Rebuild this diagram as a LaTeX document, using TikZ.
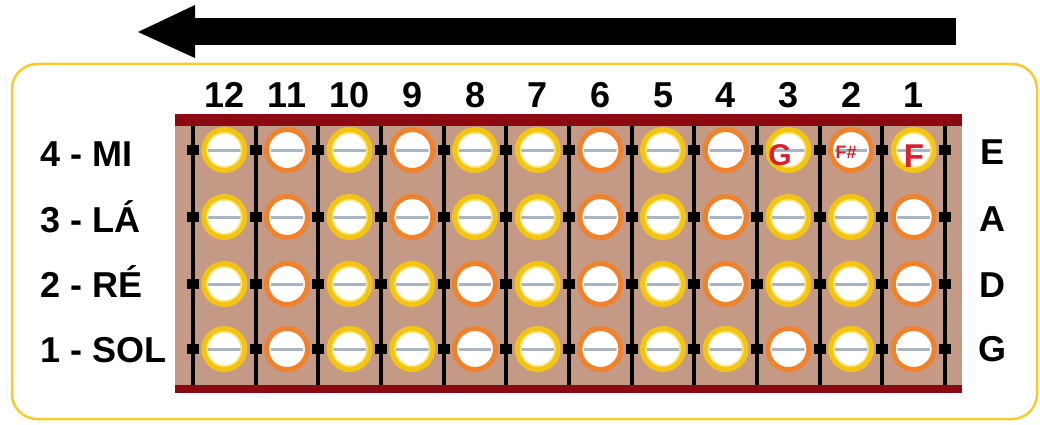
\documentclass[tikz,border=0pt]{standalone}
\usepackage{fontspec}
\setmainfont{Liberation Sans}
\definecolor{framecol}{HTML}{F7CB2E}
\definecolor{brownbg}{HTML}{C49A86}
\definecolor{darkred}{HTML}{8A0A12}
\definecolor{ringY}{HTML}{F3C412}
\definecolor{glowY}{HTML}{FBE77A}
\definecolor{ringO}{HTML}{F0822C}
\definecolor{glowO}{HTML}{FFFFFF}
\definecolor{strcol}{HTML}{A9B5C2}
\definecolor{notered}{HTML}{D9202E}
\begin{document}
\begin{tikzpicture}[x=1pt,y=-1pt,
  lab/.style={font=\fontsize{36}{36}\selectfont\bfseries, inner sep=0pt},
  numlab/.style={lab, anchor=base},
  notelab/.style={font=\fontsize{#1}{#1}\selectfont\bfseries, text=notered, inner sep=0pt, anchor=base}]
\useasboundingbox (0,0) rectangle (1040,425);
% arrow
\fill[black] (195,18) rectangle (956,45);
\fill[black] (138,32) -- (195,5) -- (195,58) -- cycle;
% frame
\draw[framecol, line width=2.5pt, rounded corners=25pt] (12,64) rectangle (1037,419);
% fretboard
\fill[brownbg] (175,120) rectangle (962,390);
\fill[darkred] (175,114) rectangle (962,126);
\fill[darkred] (175,385) rectangle (962,393);
\foreach \i in {0,...,12} {
  \draw[line width=4pt] (193+62.67*\i,126) -- (193+62.67*\i,385);
}
% circles
\foreach \yy/\cols in {150/{Y,O,Y,O,Y,Y,O,Y,O,Y,O,Y},
                       217/{Y,O,Y,O,Y,Y,O,Y,O,Y,Y,O},
                       284/{Y,O,Y,Y,O,Y,O,Y,O,Y,Y,O},
                       349/{Y,O,Y,Y,O,Y,O,Y,Y,O,Y,O}} {
  \foreach \c [count=\k from 0] in \cols {
    \pgfmathsetmacro\cx{224.33+62.67*\k}
    \fill[white] (\cx,\yy) circle (18);
    \draw[strcol, line width=3pt] (\cx-18,\yy) -- (\cx+18,\yy);
    \draw[glow\c, line width=2.5pt] (\cx,\yy) circle (17.5);
    \draw[ring\c, line width=5pt] (\cx,\yy) circle (20.5);
  }
  \foreach \i in {0,...,12} {
    \fill[black] (193+62.67*\i-6,\yy-5) rectangle (193+62.67*\i+6,\yy+5);
  }
}
% fret numbers
\foreach \n [count=\k from 0] in {12,11,10,9,8,7,6,5,4,3,2,1} {
  \node[numlab] (n\n) at (224.33+62.67*\k,108) {\n};
}
% string names
\node[lab, anchor=base west] (l4) at (40,166) {4 - MI};
\node[lab, anchor=base west] (l3) at (40,232) {3 - LÁ};
\node[lab, anchor=base west] (l2) at (40,297) {2 - RÉ};
\node[lab, anchor=base west] (l1) at (40,362) {1 - SOL};
\node[numlab] (rE) at (992,164) {E};
\node[numlab] (rA) at (992,231) {A};
\node[numlab] (rD) at (992,297) {D};
\node[numlab] (rG) at (992,361) {G};
% notes
\node[notelab=30] (nG) at (780,165) {G};
\node[notelab=18] (nFs) at (846,158) {F\#};
\node[notelab=33] (nF) at (914,167) {F};
\end{tikzpicture}
\end{document}
